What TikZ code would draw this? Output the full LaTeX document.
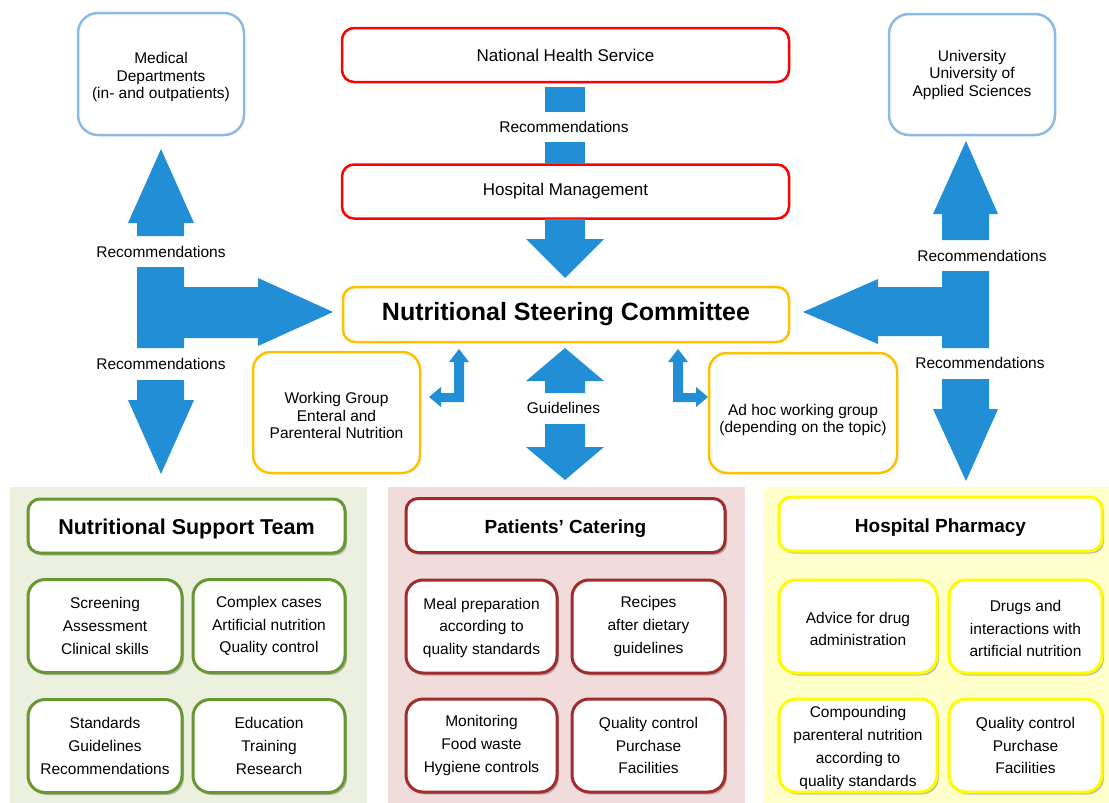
\documentclass[tikz,border=0pt]{standalone}
\usepackage{fontspec}
\setmainfont{Liberation Sans}
\usetikzlibrary{shadows}
\definecolor{arrowblue}{RGB}{34,142,214}
\definecolor{lblue}{RGB}{141,185,226}
\definecolor{nscorange}{RGB}{255,192,0}
\definecolor{gstroke}{RGB}{104,150,50}
\definecolor{gbg}{RGB}{235,241,222}
\definecolor{rstroke}{RGB}{160,45,45}
\definecolor{rbg}{RGB}{242,220,219}
\definecolor{ystroke}{RGB}{255,250,0}
\definecolor{ybg}{RGB}{255,255,204}
\newcommand\dnsp[1]{\rule{0pt}{#1}}
\begin{document}
\begin{tikzpicture}[x=1pt,y=-1pt,
  txt/.style={font=\fontsize{15.5}{17.5}\selectfont, align=center, inner sep=0pt},
  topbox/.style={draw=lblue, line width=2.5pt, rounded corners=20pt, fill=white, align=center,
     font=\fontsize{15.5}{17.5}\selectfont, inner sep=0pt},
  redbox/.style={draw=red, line width=2.5pt, rounded corners=12pt, fill=white, align=center,
     font=\fontsize{17}{20}\selectfont, minimum width=447pt, minimum height=54pt, inner sep=0pt},
  wgbox/.style={draw=nscorange, line width=2.5pt, rounded corners=18pt, fill=white, align=center,
     font=\fontsize{15.5}{17.5}\selectfont, inner sep=0pt},
  shadowed/.style={drop shadow={shadow xshift=2pt, shadow yshift=-2.5pt, opacity=0.35, fill=black!70}},
  header/.style={line width=3pt, rounded corners=12pt, fill=white, shadowed, align=center,
     font=\bfseries\fontsize{19}{22}\selectfont, minimum height=54pt, inner sep=0pt},
  subbox/.style={line width=3pt, rounded corners=17pt, fill=white, shadowed, align=center,
     font=\fontsize{15.5}{22.7}\selectfont, minimum height=93pt, inner sep=0pt},
  blk/.style={fill=arrowblue}
]
\useasboundingbox (0,0) rectangle (1109,803);

% ---------- panels ----------
\fill[gbg] (10,487) rectangle (367,803);
\fill[rbg] (388,487) rectangle (745,803);
\fill[ybg] (763,487) rectangle (1109,803);

% ---------- top boxes ----------
\node[topbox, minimum width=166pt, minimum height=122pt] (md) at (161,74) {\dnsp{17.3pt}Medical\\Departments\\(in- and outpatients)};
\node[topbox, minimum width=166pt, minimum height=121pt] (uni) at (972,74.5) {University\\University of\\Applied Sciences};
\node[redbox] (nhs) at (565.5,55) {National Health Service};
\node[redbox] (hm) at (565.5,191.5) {Hospital Management};
\node[draw=nscorange, line width=2.5pt, rounded corners=12pt, fill=white, minimum width=446pt, minimum height=55pt, inner sep=0pt,
      font=\bfseries\fontsize{25}{28}\selectfont] (nsc) at (566,314.5) {Nutritional Steering Committee};
\node[wgbox, minimum width=167pt, minimum height=121pt] (wg) at (336.5,412.5) {\dnsp{17.3pt}Working Group\\Enteral and\\Parenteral Nutrition};
\node[wgbox, minimum width=188pt, minimum height=120pt] (ah) at (803,413) {\dnsp{25.3pt}Ad hoc working group\\(depending on the topic)};

% ---------- labels ----------
\node[txt] (recL1) at (161,252) {Recommendations};
\node[txt] (recL2) at (161,364) {Recommendations};
\node[txt] (recR1) at (982,256) {Recommendations};
\node[txt] (recR2) at (980,363) {Recommendations};
\node[txt] (recC) at (564,127) {Recommendations};
\node[txt] (guid) at (563.5,408) {Guidelines};

% ---------- block arrows ----------
% left cross
\fill[blk] (161,149) -- (194,223) -- (184,223) -- (184,236) -- (137,236) -- (137,223) -- (128,223) -- cycle;
\fill[blk] (137,267) -- (184,267) -- (184,287) -- (258,287) -- (258,278) -- (333,312) -- (258,346) -- (258,338)
   -- (184,338) -- (184,348) -- (137,348) -- cycle;
\fill[blk] (137,380) -- (184,380) -- (184,400) -- (194,400) -- (161,474) -- (128,400) -- (137,400) -- cycle;
% right cross
\fill[blk] (966,141) -- (998,214) -- (989,214) -- (989,240) -- (942,240) -- (942,214) -- (933,214) -- cycle;
\fill[blk] (942,271) -- (989,271) -- (989,348) -- (942,348) -- (942,336) -- (878,336) -- (878,344) -- (803,312)
   -- (878,279) -- (878,287) -- (942,287) -- cycle;
\fill[blk] (942,379) -- (989,379) -- (989,409) -- (998,409) -- (966,481) -- (933,409) -- (942,409) -- cycle;
% centre
\fill[blk] (545,87) rectangle (585,112);
\fill[blk] (545,142) rectangle (585,164);
\fill[blk] (545,219) -- (585,219) -- (585,239) -- (604,239) -- (565,278) -- (526,239) -- (545,239) -- cycle;
\fill[blk] (565,348) -- (604,381) -- (585,381) -- (585,393) -- (545,393) -- (545,381) -- (526,381) -- cycle;
\fill[blk] (545,424) -- (585,424) -- (585,447) -- (604,447) -- (565,480) -- (526,447) -- (545,447) -- cycle;
% small L arrows
\fill[blk] (459,349) -- (469,362) -- (464,362) -- (464,402) -- (441,402) -- (441,407) -- (429,397) -- (441,387)
   -- (441,393) -- (454,393) -- (454,362) -- (449,362) -- cycle;
\fill[blk] (678,349) -- (688,362) -- (683,362) -- (683,393) -- (696,393) -- (696,387) -- (708,397) -- (696,407)
   -- (696,402) -- (673,402) -- (673,362) -- (668,362) -- cycle;

% ---------- green panel ----------
\node[header, draw=gstroke, minimum width=317pt, font=\bfseries\fontsize{21.5}{24}\selectfont] (nst) at (186.5,526) {\dnsp{22pt}Nutritional Support Team};
\node[subbox, draw=gstroke, minimum width=154pt] (g1) at (105,626) {Screening\\Assessment\\Clinical skills};
\node[subbox, draw=gstroke, minimum width=152pt] (g2) at (269,626) {Complex cases\\Artificial nutrition\\Quality control};
\node[subbox, draw=gstroke, minimum width=154pt] (g3) at (105,746) {Standards\\Guidelines\\Recommendations};
\node[subbox, draw=gstroke, minimum width=152pt] (g4) at (269,746) {Education\\Training\\Research};

% ---------- pink panel ----------
\node[header, draw=rstroke, minimum width=319pt] (pc) at (565.5,525.5) {\dnsp{20pt}Patients’ Catering};
\node[subbox, draw=rstroke, minimum width=151pt] (r1) at (481.5,626.5) {\dnsp{14pt}Meal preparation\\according to\\quality standards};
\node[subbox, draw=rstroke, minimum width=153pt] (r2) at (648.5,626.5) {Recipes\\after dietary\\guidelines};
\node[subbox, draw=rstroke, minimum width=151pt] (r3) at (481.5,745.5) {Monitoring\\Food waste\\Hygiene controls};
\node[subbox, draw=rstroke, minimum width=153pt] (r4) at (648.5,745.5) {Quality control\\Purchase\\Facilities};

% ---------- yellow panel ----------
\node[header, draw=ystroke, minimum width=323pt] (hp) at (940.5,524) {\dnsp{20pt}Hospital Pharmacy};
\node[subbox, draw=ystroke, minimum width=158pt] (y1) at (858,626.5) {\dnsp{16.3pt}Advice for drug\\administration};
\node[subbox, draw=ystroke, minimum width=153pt] (y2) at (1025.5,626.5) {\dnsp{15.5pt}Drugs and\\interactions with\\artificial nutrition};
\node[subbox, draw=ystroke, minimum width=158pt] (y3) at (858,745.5) {\dnsp{16.3pt}Compounding\\parenteral nutrition\\according to\\quality standards};
\node[subbox, draw=ystroke, minimum width=153pt] (y4) at (1025.5,745.5) {Quality control\\Purchase\\Facilities};
\end{tikzpicture}
\end{document}
